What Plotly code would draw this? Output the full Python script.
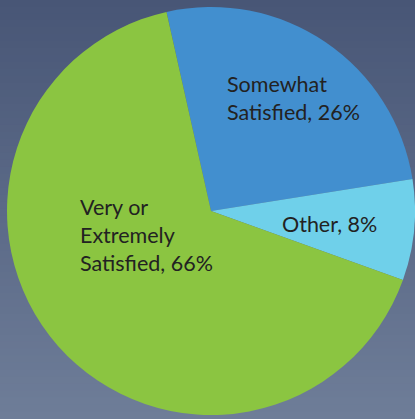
import plotly.graph_objects as go

# Data
labels = ["Somewhat Satisfied", "Other", "Very or Extremely Satisfied"]
values = [26, 8, 66]
label_texts = ["Somewhat<br>Satisfied, 26%", "Other, 8%", "Very or<br>Extremely<br>Satisfied, 66%"]
colors = ["#428fcf", "#6fd0ea", "#8bc541"]

W, H = 415, 419

fig = go.Figure()
fig.add_trace(go.Pie(
    labels=labels,
    values=values,
    sort=False,
    direction="clockwise",
    rotation=-12.6,
    marker=dict(colors=colors, line=dict(width=0)),
    textinfo="none",
    hoverinfo="label+percent",
    showlegend=False,
    domain=dict(x=[0.0169, 1.0], y=[4 / H, 412 / H]),
))

# Background vertical gradient (approximated with bands)
top = (72, 86, 118)
bot = (110, 125, 152)
n = 60
shapes = []
for i in range(n):
    t = i / (n - 1)
    c = tuple(int(round(top[k] + (bot[k] - top[k]) * t)) for k in range(3))
    shapes.append(dict(
        type="rect", xref="paper", yref="paper",
        x0=0, x1=1, y0=1 - (i + 1) / n, y1=1 - i / n + 0.002,
        fillcolor="rgb(%d,%d,%d)" % c, line=dict(width=0), layer="below",
    ))

# Label positions (paper coords)
ann_pos = [(225 / W, 1 - 98 / H), (280 / W, 1 - 224 / H), (78 / W, 1 - 235 / H)]
annotations = []
for txt, (x, y) in zip(label_texts, ann_pos):
    annotations.append(dict(
        text=txt, x=x, y=y, xref="paper", yref="paper",
        xanchor="left", yanchor="middle", align="left", showarrow=False,
        font=dict(family="Lato, Open Sans, sans-serif", size=21.5, color="#222222"),
    ))

fig.update_layout(
    width=W, height=H,
    margin=dict(l=0, r=0, t=0, b=0),
    paper_bgcolor="rgb(90,105,135)",
    plot_bgcolor="rgba(0,0,0,0)",
    shapes=shapes,
    annotations=annotations,
)

fig.write_html("out.html")
